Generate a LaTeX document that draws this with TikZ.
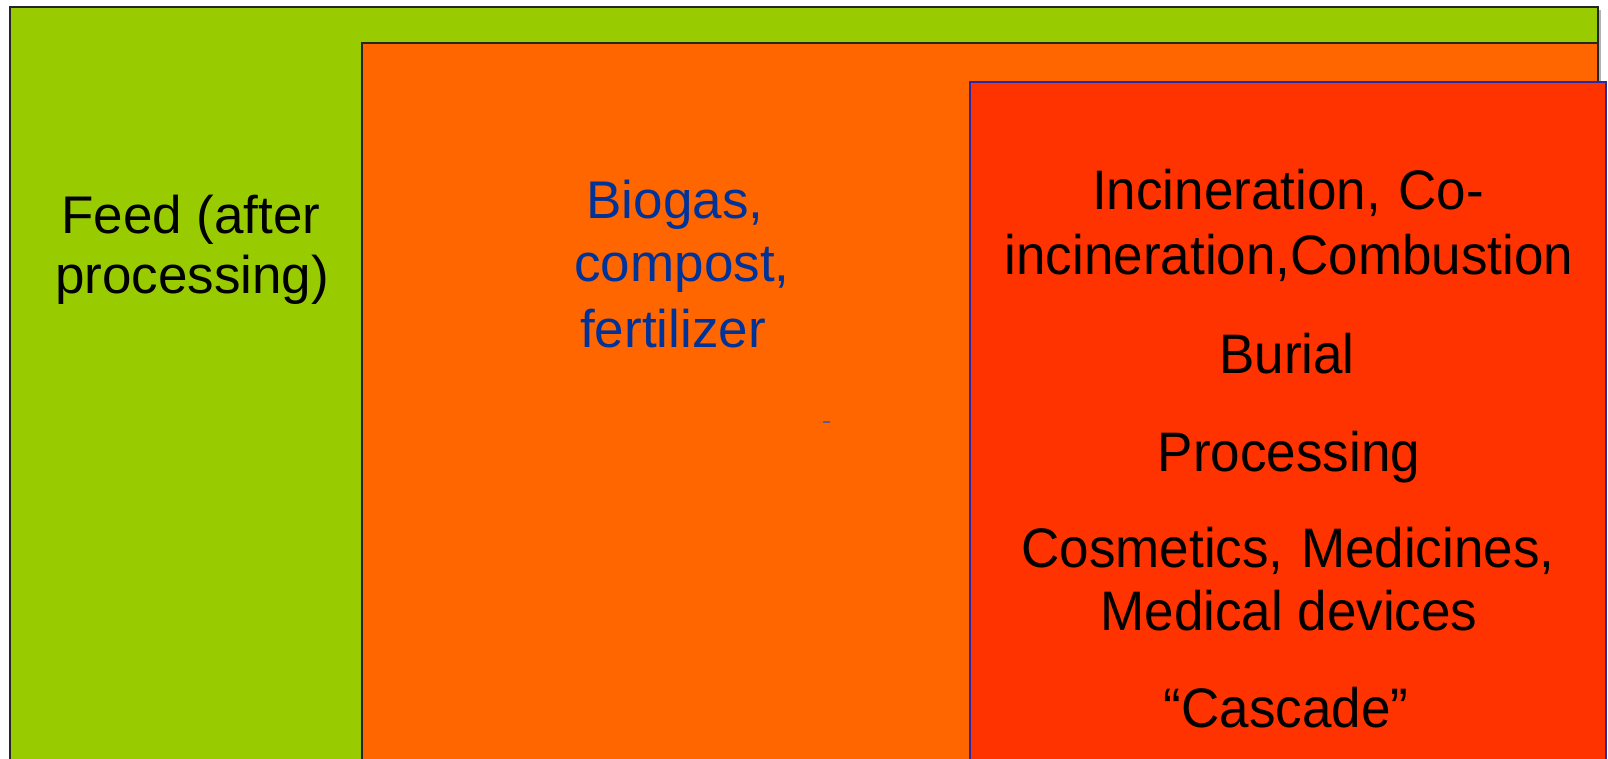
\documentclass[tikz,border=0pt]{standalone}
\usepackage{fontspec}
\usepackage{graphicx}
\setmainfont{Liberation Sans}
\definecolor{feedgreen}{HTML}{99CC00}
\definecolor{bioorange}{HTML}{FF6600}
\definecolor{incred}{HTML}{FF3300}
\definecolor{redborder}{RGB}{40,40,170}
\definecolor{biotext}{HTML}{003399}
\newcommand\vstr[1]{\scalebox{1}[1.05]{#1}}
\tikzset{
  panel/.style={draw=black!85, line width=2pt},
  lefttxt/.style={anchor=base, inner sep=0pt, font=\fontsize{53}{60}\selectfont, text=black},
  biotxt/.style={anchor=base, inner sep=0pt, font=\fontsize{53}{60}\selectfont, text=biotext},
  righttxt/.style={anchor=base, inner sep=0pt, font=\fontsize{53}{60}\selectfont, text=black}
}
\begin{document}
\begin{tikzpicture}[x=1pt,y=-1pt]
\useasboundingbox (0,0) rectangle (1608,759);
\clip (0,0) rectangle (1608,759);
\fill[white] (0,0) rectangle (1608,759);
% shadow hint
\fill[black!30] (1598,10) rectangle (1601,770);
% panels
\draw[panel, fill=feedgreen] (10,7) rectangle (1598,790);
\draw[panel, fill=bioorange] (362,43) rectangle (1598,790);
\draw[line width=2pt, draw=redborder, fill=incred] (970,82) rectangle (1606,790);
% stray dash
\draw[line width=1.5pt, draw=gray!70!blue] (823,422) -- (830,422);
% left text
\node[lefttxt] (feed1) at (191,234) {Feed (after};
\node[lefttxt] (feed2) at (192,294) {processing)};
% middle text
\node[biotxt] (bio1) at (675,219) {Biogas,};
\node[biotxt] (bio2) at (682,282) {compost,};
\node[biotxt] (bio3) at (673,347) {fertilizer};
% right text
\node[righttxt] (inc1) at (1288,210) {\vstr{Incineration,\ \kern0.05em Co-}};
\node[righttxt] (inc2) at (1289,275) {\vstr{incineration,Combustion}};
\node[righttxt] (bur) at (1287,373) {\vstr{Burial}};
\node[righttxt] (proc) at (1289,471) {\vstr{Processing}};
\node[righttxt] (cos1) at (1288,567) {\vstr{Cosmetics,\ \kern0.05em Medicines,}};
\node[righttxt] (cos2) at (1289,630) {\vstr{Medical devices}};
\node[righttxt] (cas) at (1286,727) {\vstr{``Cascade''}};
\end{tikzpicture}
\end{document}
